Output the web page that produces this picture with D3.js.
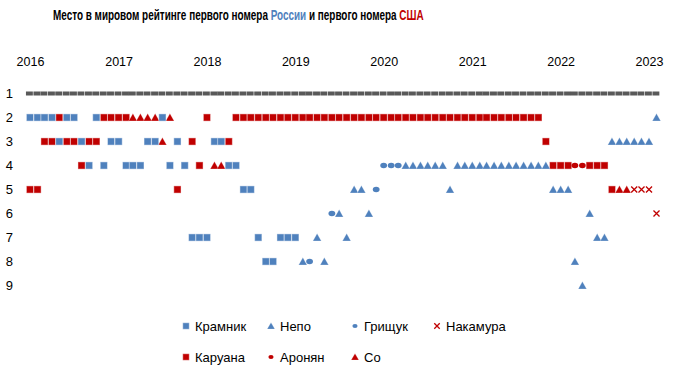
<!DOCTYPE html>
<html>
<head>
<meta charset="utf-8">
<script src="https://cdn.jsdelivr.net/npm/d3@7"></script>
<style>
  body { margin: 0; background: #fff; }
  text { font-family: "Liberation Sans", Arial, sans-serif; }
</style>
</head>
<body>
<svg id="svg"></svg>
<script>
// monthly FIDE lists, Jan 2016 .. Feb 2023
const startMonth = new Date(2016, 0, 1);
const monthCount = 86;

// rank of the best Russian player each month and who it was
// K = Kramnik, N = Nepo, G = Grischuk
const russiaRank = [
  2, 2, 2, 2, 3, 2, 2, 3, 4, 2, 4, 3,      // 2016
  3, 4, 4, 4, 3, 3, 2, 4, 3, 4, 7, 7,      // 2017
  7, 3, 3, 4, 4, 5, 5, 7, 8, 8, 7, 7,      // 2018
  7, 8, 8, 7, 8, 6, 6, 7, 5, 5, 6, 5,      // 2019
  4, 4, 4, 4, 4, 4, 4, 4, 4, 5, 4, 4,      // 2020
  4, 4, 4, 4, 4, 4, 4, 4, 4, 4, 4, 5,      // 2021
  5, 5, 8, 9, 6, 7, 7, 3, 3, 3, 3, 3,      // 2022
  3, 2                                     // 2023
];
const russiaPlayer = [
  'K','K','K','K','K','K','K','K','K','K','K','K',
  'K','K','K','K','K','K','K','K','K','K','K','K',
  'K','K','K','K','K','K','K','K','K','K','K','K',
  'K','N','G','N','N','G','N','N','N','N','N','G',
  'G','G','G','N','N','N','N','N','N','N','N','N',
  'N','N','N','N','N','N','N','N','N','N','N','N',
  'N','N','N','N','N','N','N','N','N','N','N','N',
  'N','N'
];

// rank of the best US player each month and who it was
// C = Caruana, S = So, A = Aronian, H = Nakamura
const usaRank = [
  5, 5, 3, 3, 2, 3, 3, 4, 3, 3, 2, 2,
  2, 2, 2, 2, 2, 2, 3, 2, 5, null, 3, 4,
  2, 4, 4, 3, 2, 2, 2, 2, 2, 2, 2, 2,
  2, 2, 2, 2, 2, 2, 2, 2, 2, 2, 2, 2,
  2, 2, 2, 2, 2, 2, 2, 2, 2, 2, 2, 2,
  2, 2, 2, 2, 2, 2, 2, 2, 2, 2, 3, 4,
  4, 4, 4, 4, 4, 4, 4, 5, 5, 5, 5, 5,
  5, 6
];
const usaPlayer = [
  'C','C','C','C','C','C','C','C','C','C','C','C',
  'C','C','S','S','S','S','S','S','C',null,'C','C',
  'C','S','S','C','C','C','C','C','C','C','C','C',
  'C','C','C','C','C','C','C','C','C','C','C','C',
  'C','C','C','C','C','C','C','C','C','C','C','C',
  'C','C','C','C','C','C','C','C','C','C','C','C',
  'C','C','A','A','C','C','C','C','S','S','H','H',
  'H','H'
];

// world #1 (Carlsen) every month
const topRank = new Array(monthCount).fill(1);

const yearLabels = ['2016', '2017', '2018', '2019', '2020', '2021', '2022', '2023'];
const rankLabels = [1, 2, 3, 4, 5, 6, 7, 8, 9];

const players = {
  K: { name: 'Крамник', shape: 'square', color: '#4F81BD' },
  N: { name: 'Непо', shape: 'triangle', color: '#4F81BD' },
  G: { name: 'Грищук', shape: 'circle', color: '#4F81BD' },
  H: { name: 'Накамура', shape: 'cross', color: '#C00000' },
  C: { name: 'Каруана', shape: 'square', color: '#C00000' },
  A: { name: 'Аронян', shape: 'circle', color: '#C00000' },
  S: { name: 'Со', shape: 'triangle', color: '#C00000' }
};
const legendRows = [['K', 'N', 'G', 'H'], ['C', 'A', 'S']];

const width = 687;
const height = 392;
const blue = '#4F81BD';
const red = '#C00000';

const months = d3.timeMonth.range(startMonth, d3.timeMonth.offset(startMonth, monthCount));

const svg = d3.select('#svg')
  .attr('width', width)
  .attr('height', height);

// SCALES
const xScale = d3.scaleTime()
  .domain([new Date(2016, 0, 1), new Date(2023, 0, 1)])
  .range([30, 649]);

const yScale = d3.scaleLinear()
  .domain([1, 9])
  .range([93.5, 285.5]);

// TITLE - condensed bold, squeezed horizontally to the original width
const title = svg.append('text')
  .attr('x', 0)
  .attr('y', 0)
  .attr('font-size', 14)
  .attr('font-weight', 'bold')
  .style('font-family', '"Liberation Sans", sans-serif');
title.append('tspan').attr('fill', '#000').text('Место в мировом рейтинге первого номера ');
title.append('tspan').attr('fill', blue).text('России');
title.append('tspan').attr('fill', '#000').text(' и первого номера ');
title.append('tspan').attr('fill', red).text('США');
const titleLen = title.node().getComputedTextLength();
title.attr('transform', `translate(53, 20) scale(${371 / titleLen}, 1)`);

// YEAR AXIS (top)
const yearTicks = yearLabels.map(y => new Date(+y, 0, 1));
const xAxis = svg.append('g')
  .attr('transform', 'translate(0, 65.5)')
  .call(d3.axisTop(xScale)
    .tickValues(yearTicks)
    .tickFormat(d3.timeFormat('%Y'))
    .tickSize(0)
    .tickPadding(0));
xAxis.select('.domain').remove();
xAxis.selectAll('text')
  .attr('font-size', 12.5)
  .attr('fill', '#000')
  .style('font-family', '"Liberation Sans", sans-serif');

// RANK AXIS (left)
const yAxis = svg.append('g')
  .attr('transform', 'translate(13, 0)')
  .call(d3.axisLeft(yScale)
    .tickValues(rankLabels)
    .tickFormat(d3.format('d'))
    .tickSize(0)
    .tickPadding(0));
yAxis.select('.domain').remove();
yAxis.selectAll('text')
  .attr('font-size', 13)
  .attr('fill', '#000')
  .style('font-family', '"Liberation Sans", sans-serif');

// MARKERS
function drawMarker(g, shape, color, size) {
  const s = size;
  if (shape === 'square') {
    g.append('rect')
      .attr('x', -s / 2).attr('y', -s / 2)
      .attr('width', s).attr('height', s)
      .attr('fill', color)
      .attr('stroke', '#fff').attr('stroke-opacity', 0.45).attr('stroke-width', 1);
  } else if (shape === 'triangle') {
    const h = s * 0.95;
    g.append('path')
      .attr('d', `M0,${-h / 2 - 0.5}L${s / 2 + 0.6},${h / 2}L${-s / 2 - 0.6},${h / 2}Z`)
      .attr('fill', color)
      .attr('stroke', '#fff').attr('stroke-opacity', 0.35).attr('stroke-width', 0.7);
  } else if (shape === 'circle') {
    g.append('ellipse')
      .attr('rx', s * 0.47).attr('ry', s * 0.38)
      .attr('fill', color);
  } else if (shape === 'cross') {
    const c = s * 0.42;
    g.append('path')
      .attr('d', `M${-c},${-c}L${c},${c}M${-c},${c}L${c},${-c}`)
      .attr('stroke', color)
      .attr('stroke-width', 1.3)
      .attr('fill', 'none');
  }
}

// world #1 row drawn as dash markers
const step = xScale(months[1]) - xScale(months[0]);
svg.append('g')
  .selectAll('rect')
  .data(topRank)
  .enter()
  .append('rect')
  .attr('x', (d, i) => xScale(months[i]) - step / 2 - 0.3)
  .attr('y', d => yScale(d) - 2)
  .attr('width', step - 0.6)
  .attr('height', 4)
  .attr('fill', '#595959');

function drawSeries(ranks, who) {
  const pts = ranks
    .map((r, i) => ({ month: months[i], rank: r, player: who[i] }))
    .filter(d => d.rank !== null && d.player !== null);
  const g = svg.append('g');
  pts.forEach(d => {
    const p = players[d.player];
    const m = g.append('g')
      .attr('transform', `translate(${xScale(d.month)}, ${yScale(d.rank)})`);
    drawMarker(m, p.shape, p.color, 7.2);
  });
}

drawSeries(usaRank, usaPlayer);
drawSeries(russiaRank, russiaPlayer);

// LEGEND
const legendX = [186, 271, 355, 437];
const legendY = [326, 357];
legendRows.forEach((row, ri) => {
  row.forEach((code, ci) => {
    const p = players[code];
    const g = svg.append('g')
      .attr('transform', `translate(${legendX[ci]}, ${legendY[ri]})`);
    drawMarker(g, p.shape, p.color, p.shape === 'circle' ? 5.5 : 6.5);
    g.append('text')
      .attr('x', 9)
      .attr('y', 0)
      .attr('dy', '0.36em')
      .attr('font-size', 13)
      .attr('fill', '#000')
      .text(p.name);
  });
});
</script>
</body>
</html>
